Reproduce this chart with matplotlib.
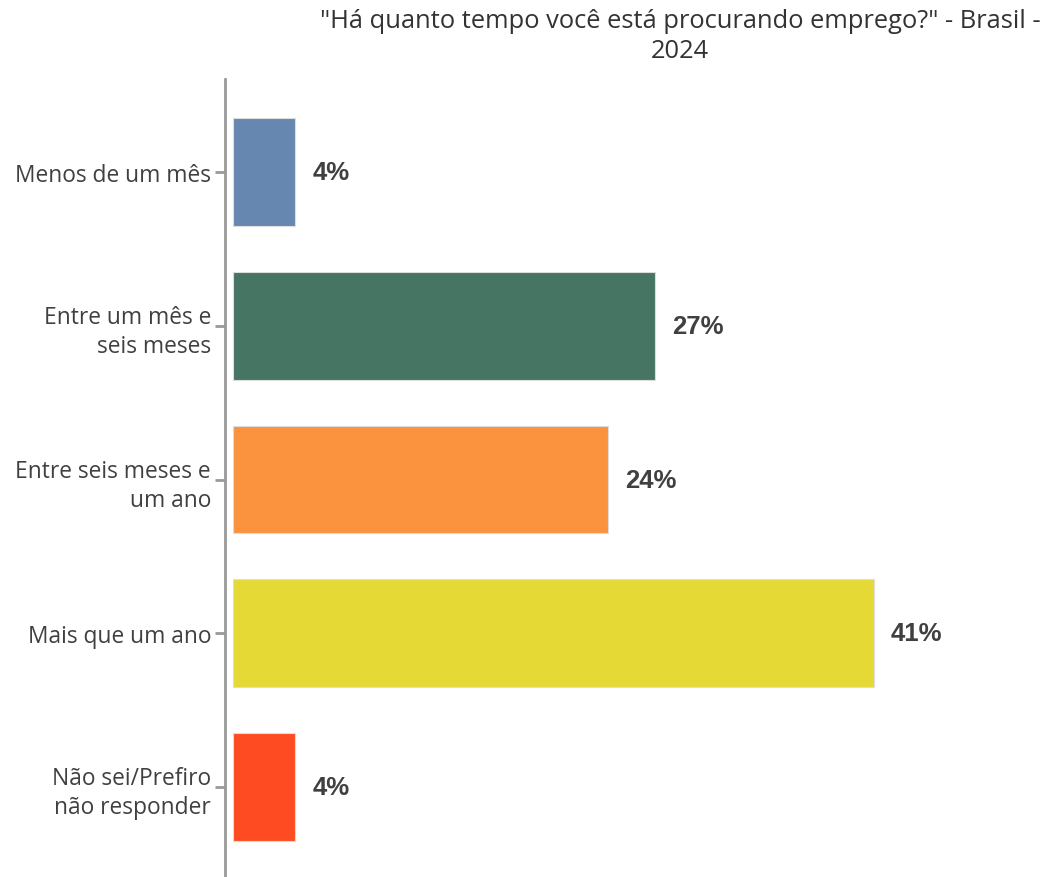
import matplotlib
matplotlib.use('Agg')
import matplotlib.pyplot as plt

# data
categories = ['Menos de um mês', 'Entre um mês e\nseis meses', 'Entre seis meses e\num ano',
              'Mais que um ano', 'Não sei/Prefiro\nnão responder']
values = [4, 27, 24, 41, 4]
colors = ['#6688B0', '#467563', '#FA923E', '#E5D935', '#FF4B22']

fig = plt.figure(figsize=(10.46, 8.78), dpi=100)
ax = fig.add_axes([225/1046, 0, (1000-225)/1046, (878-80)/878])

y = list(range(len(categories)))
ax.barh(y, values, height=0.7, color=colors, edgecolor='#dddddd', linewidth=0.8)

for yi, v in zip(y, values):
    ax.text(v + 1.1, yi, f'{v}%', va='center', ha='left', fontsize=18.5,
            fontweight='bold', family='Liberation Sans', color='#404040')

ax.set_xlim(-0.51, 49.07)
ax.set_ylim(4.585, -0.605)
ax.set_yticks(y)
ax.set_yticklabels(categories, fontsize=16.4, family='Open Sans', color='#404040',
                   linespacing=1.28)
ax.tick_params(axis='y', length=7, width=2, color='#999999', pad=3)
ax.set_xticks([])

for s in ['top', 'right', 'bottom']:
    ax.spines[s].set_visible(False)
ax.spines['left'].set_color('#999999')
ax.spines['left'].set_linewidth(2)

fig.text(0.65, 0.99, '"Há quanto tempo você está procurando emprego?" - Brasil -\n2024',
         ha='center', va='top', fontsize=18.4, family='Open Sans', color='#333333',
         linespacing=1.3)

fig.savefig('out.png', dpi=100)
